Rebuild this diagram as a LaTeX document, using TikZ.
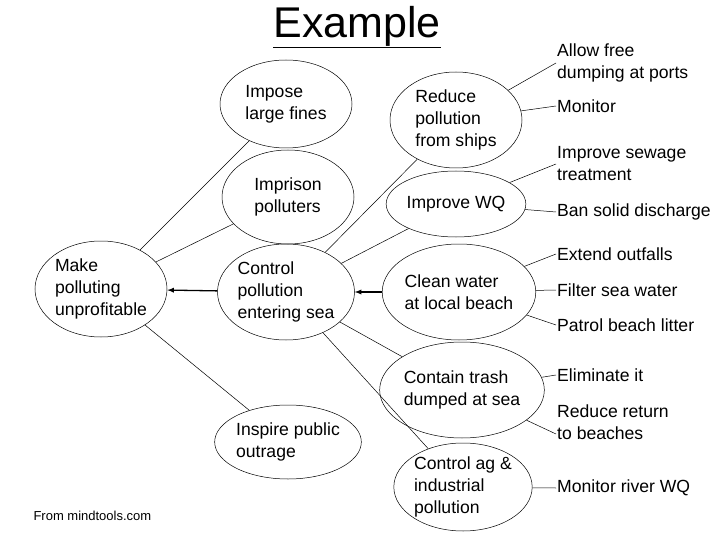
\documentclass[tikz,border=0pt]{standalone}
\usepackage{fontspec}
\setmainfont{Liberation Sans}
\usetikzlibrary{shapes.geometric}
\begin{document}
\begin{tikzpicture}[x=1pt,y=-1pt,
  el/.style={draw,ellipse,line width=0.5pt,minimum width=132pt,inner sep=0pt,align=left,font=\fontsize{17.6}{22}\selectfont},
  leaf/.style={anchor=west,inner sep=1pt,align=left,font=\fontsize{17.6}{22}\selectfont},
  ln/.style={line width=0.5pt},
  arr/.style={line width=1.3pt,-latex}]
\useasboundingbox (0,0) rectangle (720,540);
\node[font=\fontsize{43}{46}\selectfont,inner sep=0pt] (title) at (357,27) {\underline{Example}};
\node[font=\fontsize{13}{15}\selectfont,anchor=west] (src) at (30,516) {From mindtools.com};
\node[el,minimum height=96pt] (make) at (101,289) {Make\\polluting\\unprofitable};
\node[el,minimum height=88pt] (impose) at (286,104) {Impose\\large fines};
\node[el,minimum height=94pt] (imprison) at (288,197) {Imprison\\polluters};
\node[el,minimum height=96pt] (control) at (286,292) {Control\\pollution\\entering sea};
\node[el,minimum height=74pt] (inspire) at (288,442) {Inspire public\\outrage};
\node[el,minimum height=96pt] (reduce) at (456,120) {Reduce\\pollution\\from ships};
\node[el,minimum height=66pt] (wq) at (456,204) {Improve WQ};
\node[el,minimum height=96pt] (clean) at (459,292) {Clean water\\at local beach};
\node[el,minimum height=96pt] (contain) at (462,390) {Contain trash\\dumped at sea};
\node[el,minimum height=88pt] (ag) at (463,487) {Control ag \&\\industrial\\pollution};
\node[leaf] (allow) at (556,63) {Allow free\\dumping at ports};
\node[leaf] (monitor) at (556,106) {Monitor};
\node[leaf] (sewage) at (556,164) {Improve sewage\\treatment};
\node[leaf] (ban) at (556,212) {Ban solid discharge};
\node[leaf] (extend) at (556,254) {Extend outfalls};
\node[leaf] (filter) at (556,290) {Filter sea water};
\node[leaf] (patrol) at (556,325) {Patrol beach litter};
\node[leaf] (elim) at (556,375) {Eliminate it};
\node[leaf] (rret) at (556,422) {Reduce return\\to beaches};
\node[leaf] (mriver) at (556,488) {Monitor river WQ};
\draw[arr] (control) -- (make);
\draw[arr] (clean) -- (control);
\draw[ln] (make) -- (impose);
\draw[ln] (make) -- (imprison);
\draw[ln] (make) -- (inspire);
\draw[ln] (control) -- (reduce);
\draw[ln] (control) -- (wq);
\draw[ln] (control) -- (contain);
\draw[ln] (control) -- (ag);
\draw[ln] (reduce) -- (allow.west);
\draw[ln] (reduce) -- (monitor.west);
\draw[ln] (wq) -- (sewage.west);
\draw[ln] (wq) -- (ban.west);
\draw[ln] (clean) -- (extend.west);
\draw[ln] (clean) -- (filter.west);
\draw[ln] (clean) -- (patrol.west);
\draw[ln] (contain) -- (elim.west);
\draw[ln] (contain) -- ([yshift=-12pt]rret.west);
\draw[ln] (ag) -- (mriver.west);
\end{tikzpicture}
\end{document}
